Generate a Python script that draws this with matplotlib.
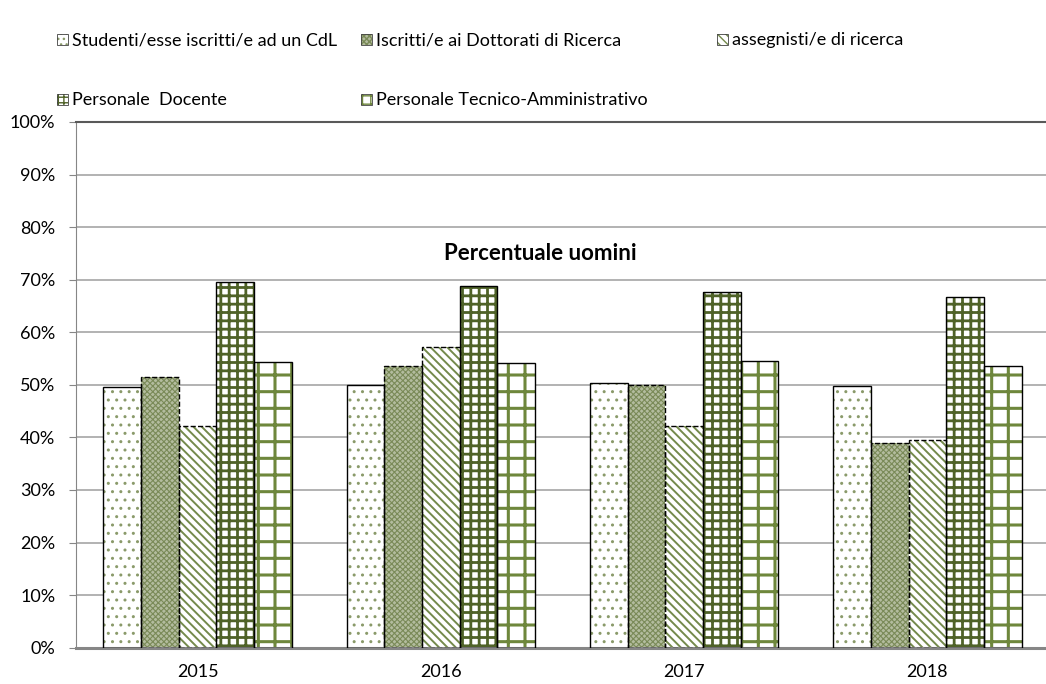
import matplotlib as mpl
import matplotlib.pyplot as plt
from matplotlib.patches import Rectangle
import numpy as np

# dati
anni = ["2015", "2016", "2017", "2018"]
serie = ["Studenti/esse iscritti/e ad un CdL",
         "Iscritti/e ai Dottorati di Ricerca",
         "assegnisti/e di ricerca",
         "Personale  Docente",
         "Personale Tecnico-Amministrativo"]
studenti = [49.5, 49.9, 50.4, 49.7]
dottorati = [51.4, 53.5, 50.0, 39.0]
assegnisti = [42.1, 57.2, 42.2, 39.6]
docenti = [69.6, 68.8, 67.6, 66.7]
tecnici = [54.4, 54.1, 54.5, 53.5]
valori = [studenti, dottorati, assegnisti, docenti, tecnici]

# stile delle barre: (colore fondo, colore trama, trama, spessore trama, bordo)
stili = [
    ("white", "#8a9a6a", "..", 1.0, "solid"),
    ("#b3bc9e", "#7a8a58", "xxxxxx", 0.8, "dashed"),
    ("white", "#748a4c", "\\\\\\\\", 1.4, "dashed"),
    ("white", "#4f6228", "++", 2.0, "solid"),
    ("white", "#6e873c", "+", 2.2, "solid"),
]
trame_legenda = ["...", "xxxxxx", "\\\\\\\\", "+++", "++"]

plt.rcParams['font.family'] = ['Lato', 'DejaVu Sans']

W, H = 1046, 684
fig = plt.figure(figsize=(W / 100, H / 100), dpi=100)
ax = fig.add_axes([76 / W, 36.3 / H, (1049 - 76) / W, (647.7 - 122) / H])

x = np.arange(len(anni))
larg = 0.155
for i, vals in enumerate(valori):
    fondo, col, trama, lw, bordo = stili[i]
    pos = x + (i - 2) * larg
    with mpl.rc_context({'hatch.linewidth': lw}):
        ax.bar(pos, vals, larg, color=fondo, edgecolor=col, hatch=trama,
               linewidth=0, zorder=2)
    ax.bar(pos, vals, larg, facecolor="none", edgecolor="black",
           linewidth=1.0, linestyle=bordo, zorder=3)

ax.set_xlim(-0.5, 3.5)
ax.set_ylim(0, 100)
ax.set_yticks(np.arange(0, 101, 10))
ax.set_yticklabels([f"{v}%" for v in range(0, 101, 10)])
ax.set_xticks(x)
ax.set_xticklabels(anni)
ax.tick_params(axis='y', length=5, color="#868686", labelsize=13, pad=10)
ax.tick_params(axis='x', length=0, labelsize=13, pad=12)
ax.yaxis.grid(True, color="#a6a6a6", linewidth=1.2, zorder=0)
ax.set_axisbelow(True)
ax.spines['right'].set_visible(False)
ax.spines['top'].set_color("#595959")
ax.spines['top'].set_linewidth(1.5)
ax.spines['left'].set_color("#868686")
ax.spines['bottom'].set_color("#868686")
ax.spines['bottom'].set_linewidth(2.2)

fig.text(540 / W, 1 - 253 / H, "Percentuale uomini", ha="center", va="center",
         fontsize=16, fontweight="bold")

# legenda manuale
leg_pos = [(57, 40), (361, 40), (717, 40), (57, 100), (361, 100)]
for i, nome in enumerate(serie):
    fondo, col, trama, lw, bordo = stili[i]
    px, py = leg_pos[i]
    with mpl.rc_context({'hatch.linewidth': 1.0}):
        r = Rectangle((px / W, 1 - (py + 5) / H), 11 / W, 11 / H,
                      transform=fig.transFigure, facecolor=fondo,
                      edgecolor=col, hatch=trame_legenda[i], linewidth=0)
        fig.add_artist(r)
    fig.add_artist(Rectangle((px / W, 1 - (py + 5) / H), 11 / W, 11 / H,
                             transform=fig.transFigure, facecolor="none",
                             edgecolor="#404040", linewidth=0.6))
    fig.text((px + 15) / W, 1 - py / H, nome, ha="left", va="center",
             fontsize=13)

fig.savefig("out.png", dpi=100)
